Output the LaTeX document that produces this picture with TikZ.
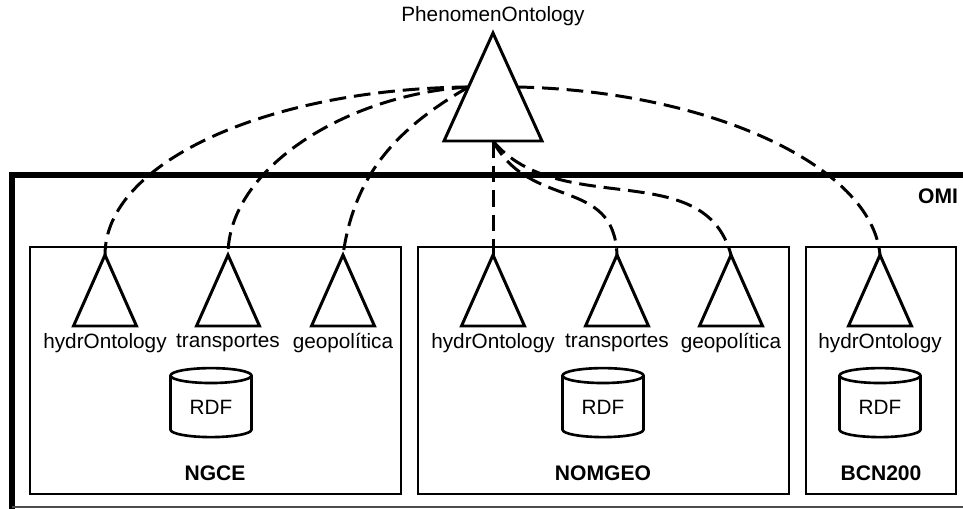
\documentclass[tikz,border=0pt]{standalone}
\usepackage{fontspec}
\setmainfont{Liberation Sans}
\usepackage{tikz}
\usetikzlibrary{shapes.geometric, calc}

\begin{document}
\begin{tikzpicture}[
  x=0.02cm, y=-0.02cm, font=\fontsize{11.8}{13}\selectfont,
  ontri/.style={draw, line width=1.7pt, line join=miter},
  ontlabel/.style={inner sep=1pt},
  srcbox/.style={draw, line width=1.5pt},
  srclabel/.style={font=\fontsize{12}{14}\selectfont\bfseries},
  rdfstore/.style={draw, cylinder, shape border rotate=90, aspect=0.35,
                   line width=1.5pt, minimum width=1.62cm,
                   minimum height=1.38cm, inner sep=0pt},
  maplink/.style={line width=1.7pt, dash pattern=on 9.5pt off 4.5pt}
]

\useasboundingbox (0,0) rectangle (963,509);

% OMI frame
\draw[line width=3.2pt] (12,512) -- (12,175) -- (970,175);
\draw[line width=0.6pt, black!70] (12,507) -- (963,507);
\node[srclabel] (omi) at (938,196) {OMI};

% global ontology
\draw[ontri] (493,33) coordinate (top) -- (444,141) coordinate (top-bl)
  -- (542,141) coordinate (top-br) -- cycle;
\coordinate (top-l) at ($(top)!0.5!(top-bl)$);
\coordinate (top-r) at ($(top)!0.5!(top-br)$);
\coordinate (top-b) at ($(top-bl)!0.5!(top-br)$);
\node (phenlab) at (493,16) {PhenomenOntology};

% sources
\draw[srcbox] (30,247) rectangle (401,494);
\draw[srcbox] (418,247) rectangle (789,494);
\draw[srcbox] (806,247) rectangle (956,494);

\foreach \nm/\xx/\lab in {nh/105/hydrOntology, nt/228/transportes,
    ng/343/geopolítica, mh/493/hydrOntology, mt/617/transportes,
    mg/731/geopolítica, bh/880/hydrOntology}{
  \draw[ontri] (\xx,255) coordinate (\nm) -- ++(-31.5,71) -- ++(63,0) -- cycle;
  \node[ontlabel] (\nm-lab) at (\xx,343) {\lab};
}

\node[rdfstore] (rdf1) at (211,407) {RDF};
\node[rdfstore] (rdf2) at (603,407) {RDF};
\node[rdfstore] (rdf3) at (880,407) {RDF};

\node[srclabel] (ngce)   at (215,473) {NGCE};
\node[srclabel] (nomgeo) at (603,473) {NOMGEO};
\node[srclabel] (bcn)    at (881,473) {BCN200};

% mappings
\draw[maplink] (top-l) .. controls +(-200,2) and +(0,-93) .. (nh);
\draw[maplink] (top-l) .. controls +(-125,8) and +(0,-85) .. (nt);
\draw[maplink] (top-l) to[out=210, in=82] (ng);
\draw[maplink] (top-b) -- (mh);
\draw[maplink] (top-b) to[out=-62, in=92, looseness=1.2] (mt);
\draw[maplink] (top-b) to[out=-50, in=105] (mg);
\draw[maplink] (top-r) .. controls +(190,4) and +(-8,-90) .. (bh);

\end{tikzpicture}
\end{document}
